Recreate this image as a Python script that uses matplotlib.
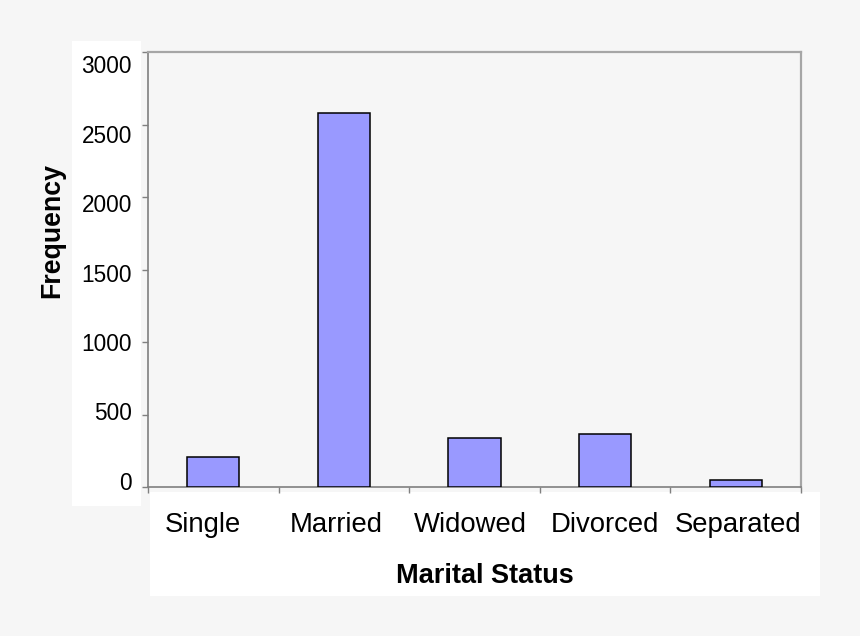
import matplotlib
matplotlib.use("Agg")
import matplotlib.pyplot as plt
from matplotlib.patches import Rectangle
import numpy as np

categories = ["Single", "Married", "Widowed", "Divorced", "Separated"]
frequency = [205, 2580, 335, 368, 48]
y_ticks = [0, 500, 1000, 1500, 2000, 2500, 3000]

plt.rcParams['font.family'] = ['Liberation Sans', 'DejaVu Sans']
bg = '#f6f6f6'
W, H = 860, 636

fig = plt.figure(figsize=(8.6, 6.36), dpi=100, facecolor=bg)

# white boxes behind tick labels
fig.patches.append(Rectangle((72/W, 1-506/H), 69/W, 465/H,
                             transform=fig.transFigure, facecolor='white',
                             edgecolor='none', zorder=-5))
fig.patches.append(Rectangle((150/W, 1-596/H), 670/W, 104/H,
                             transform=fig.transFigure, facecolor='white',
                             edgecolor='none', zorder=-5))

# main plotting axes
ax = fig.add_axes([148/W, 1-487/H, 653/W, 435/H])
ax.set_facecolor(bg)

x = np.arange(len(categories))
ax.bar(x, frequency, width=0.4, color='#9999ff', edgecolor='black', linewidth=1.1, zorder=3)

ax.set_xlim(-0.5, len(categories) - 0.5)
ax.set_ylim(0, 3000)
ax.set_yticks(y_ticks)
ax.tick_params(axis='y', direction='out', length=4, width=1, color='#808080', labelleft=False)
ax.set_xticks(x)
ax.tick_params(axis='x', which='major', length=0, labelbottom=False)
ax.set_xticks(np.arange(-0.5, len(categories), 1.0), minor=True)
ax.tick_params(axis='x', which='minor', direction='out', length=4, width=1, color='#808080')

for s in ['left', 'bottom']:
    ax.spines[s].set_color('#808080')
    ax.spines[s].set_linewidth(1.2)
for s in ['top', 'right']:
    ax.spines[s].set_color('#a6a6a6')
    ax.spines[s].set_linewidth(1.6)

# label axes (the labels in the source image sit on a slightly different scale)
ylab = fig.add_axes([148/W, 1-481/H, 653/W, 417/H])
ylab.set_ylim(0, 3000)
ylab.set_yticks(y_ticks)
ylab.set_yticklabels([str(v) for v in y_ticks], fontsize=16.3)
ylab.tick_params(axis='y', length=0, pad=11.5)
ylab.set_xticks([])
ylab.patch.set_visible(False)
for s in ylab.spines.values():
    s.set_visible(False)

xlab = fig.add_axes([148/W, 1-487/H, 653/W, 435/H])
xlab.set_xlim(-0.409, 4.468)
xlab.set_xticks(x)
xlab.set_xticklabels(categories, fontsize=19.8)
xlab.tick_params(axis='x', length=0, pad=18)
xlab.set_yticks([])
xlab.patch.set_visible(False)
for s in xlab.spines.values():
    s.set_visible(False)

fig.text(52/W, 1-230/H, "Frequency", rotation=90, ha='center', va='center',
         fontsize=19.3, fontweight='bold')
fig.text(484.5/W, 1-583/H, "Marital Status", ha='center', va='baseline',
         fontsize=19.5, fontweight='bold')

fig.savefig("out.png", dpi=100, facecolor=bg)
